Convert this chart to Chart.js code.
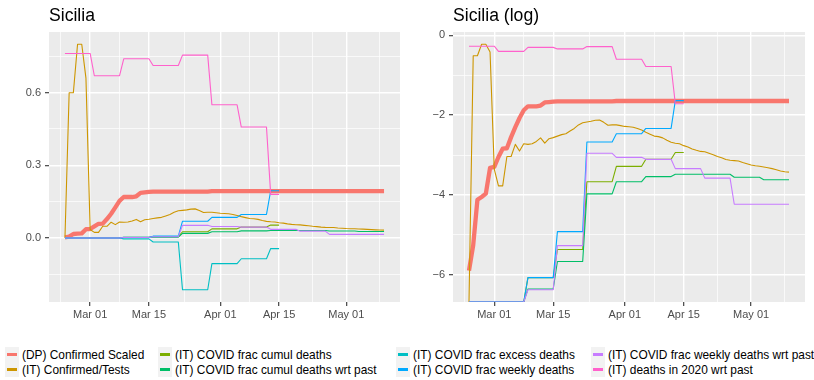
<!DOCTYPE html>
<html>
<head>
<meta charset="utf-8">
<script src="https://cdn.jsdelivr.net/npm/chart.js@4.4.1/dist/chart.umd.min.js"></script>
<style>
  body { margin: 0; background: #fff; width: 814px; height: 380px; overflow: hidden; position: relative;
         font-family: "Liberation Sans", Arial, sans-serif; }
  #leftChart { position: absolute; left: 0; top: 0; }
  #rightChart { position: absolute; left: 407px; top: 0; }
  #legend { position: absolute; left: 5px; top: 347px; display: grid;
            grid-template-columns: 153px 238px 195px 230px; grid-template-rows: 15px 15px; grid-auto-flow: column; }
  .item { display: flex; align-items: center; font-size: 11.9px; color: #000; white-space: nowrap; }
  .key { width: 14px; height: 15px; background: #F2F2F2; position: relative; margin-right: 3px; flex: none; }
  .key span { position: absolute; left: 2px; width: 10px; top: 6px; height: 3px; }
</style>
</head>
<body>
<canvas id="leftChart" width="407" height="330"></canvas>
<canvas id="rightChart" width="407" height="330"></canvas>
<div id="legend"></div>

<script>
// day 0 = 24 Feb 2020, last day = 10 May 2020
const xTickDays = [6, 20, 37, 51, 67];
const xTickLabels = ["Mar 01", "Mar 15", "Apr 01", "Apr 15", "May 01"];
const linTicks = [0, 0.3, 0.6];
const linTickLabels = ["0.0", "0.3", "0.6"];
const logTicks = [-6, -4, -2, 0];
const logTickLabels = ["\u22126", "\u22124", "\u22122", "0"];

const seriesNames = [
  "(DP) Confirmed Scaled", "(IT) Confirmed/Tests", "(IT) COVID frac cumul deaths",
  "(IT) COVID frac cumul deaths wrt past", "(IT) COVID frac excess deaths",
  "(IT) COVID frac weekly deaths", "(IT) COVID frac weekly deaths wrt past", "(IT) deaths in 2020 wrt past"
];
const seriesColors = ["#F8766D", "#CD9600", "#7CAE00", "#00BE67", "#00BFC4", "#00A9FF", "#C77CFF", "#FF61CC"];

// daily series (one value per day from day 0)
const confirmedScaled = [
  0.00274, 0.0052, 0.0162, 0.0174, 0.0189, 0.0361, 0.0369, 0.0474, 0.0584, 0.059,
  0.078, 0.100, 0.126, 0.153, 0.169, 0.169, 0.169, 0.172, 0.186, 0.188,
  0.190, 0.191, 0.191, 0.191, 0.191, 0.191, 0.191, 0.191, 0.191, 0.191,
  0.191, 0.191, 0.191, 0.191, 0.191, 0.193, 0.193, 0.193, 0.193, 0.193,
  0.193, 0.193, 0.193, 0.193, 0.193, 0.193, 0.193, 0.193, 0.193, 0.193,
  0.193, 0.193, 0.193, 0.193, 0.193, 0.193, 0.193, 0.193, 0.193, 0.193,
  0.193, 0.193, 0.193, 0.193, 0.193, 0.193, 0.193, 0.193, 0.193, 0.193,
  0.193, 0.193, 0.193, 0.193, 0.193, 0.193, 0.193
];
const confirmedTests = [
  0, 0.60, 0.60, 0.80, 0.80, 0.66, 0.035, 0.023, 0.023, 0.048,
  0.048, 0.065, 0.055, 0.066, 0.065, 0.066, 0.070, 0.0765, 0.067, 0.075,
  0.077, 0.080, 0.083, 0.085, 0.091, 0.097, 0.106, 0.112, 0.114, 0.116,
  0.119, 0.120, 0.113, 0.105, 0.106, 0.106, 0.104, 0.102, 0.101, 0.100,
  0.097, 0.093, 0.088, 0.084, 0.080, 0.079, 0.0765, 0.072, 0.0685, 0.067,
  0.066, 0.063, 0.061, 0.058, 0.056, 0.0545, 0.054, 0.052, 0.050, 0.048,
  0.0465, 0.0446, 0.0437, 0.0433, 0.0429, 0.0412, 0.040, 0.0388, 0.038, 0.0376,
  0.0369, 0.0362, 0.0354, 0.0344, 0.0334, 0.0327, 0.0324
];

// weekly step series: corner days and values
const shortStepDays = [0, 13, 14, 20, 21, 27, 28, 34, 35, 41, 42, 48, 49, 51];
const cumulDeaths  = [0, 0, 0.0023, 0.0023, 0.00466, 0.00466, 0.0255, 0.0255, 0.0375, 0.0375, 0.0447, 0.0447, 0.053, 0.053];
const excessDeaths = [0, 0, -0.004, -0.004, -0.017, -0.017, -0.214, -0.214, -0.106, -0.106, -0.086, -0.086, -0.044, -0.044];
const weeklyDeaths = [0, 0, 0.0023, 0.0023, 0.0073, 0.0073, 0.069, 0.069, 0.085, 0.085, 0.097, 0.097, 0.195, 0.195];

const longStepDays = [0, 13, 14, 20, 21, 27, 28, 34, 35, 41, 42, 48, 49, 55, 56, 62, 63, 69, 70, 76];
const cumulDeathsPast  = [0, 0, 0.00173, 0.00173, 0.00345, 0.00345, 0.0188, 0.0188, 0.0255, 0.0255,
                          0.029, 0.029, 0.0307, 0.0307, 0.0307, 0.0307, 0.0285, 0.0285, 0.0268, 0.0268];
const weeklyDeathsPast = [0, 0, 0.0017, 0.0017, 0.00514, 0.00514, 0.052, 0.052, 0.047, 0.047,
                          0.0447, 0.0447, 0.0354, 0.0354, 0.0279, 0.0279, 0.0145, 0.0145, 0.0145, 0.0145];

const deaths2020Days = [0, 6, 7, 13, 14, 20, 21, 27, 28, 34, 35, 41, 42, 48, 49, 51];
const deaths2020Past = [0.762, 0.762, 0.67, 0.67, 0.74, 0.74, 0.712, 0.712, 0.755, 0.755, 0.55, 0.55, 0.458, 0.458, 0.18, 0.18];

const dailyDays = confirmedScaled.map((v, i) => i);
const seriesDays = [dailyDays, dailyDays, shortStepDays, longStepDays, shortStepDays, shortStepDays, longStepDays, deaths2020Days];
const seriesVals = [confirmedScaled, confirmedTests, cumulDeaths, cumulDeathsPast, excessDeaths, weeklyDeaths, weeklyDeathsPast, deaths2020Past];

// ggplot-like 5% expansion
function expand(lo, hi) { const p = (hi - lo) * 0.05; return [lo - p, hi + p]; }
function minorsOf(major, lo, hi) {
  const out = [];
  const step0 = major[1] - major[0], stepN = major[major.length - 1] - major[major.length - 2];
  out.push(major[0] - step0 / 2);
  for (let i = 0; i < major.length - 1; i++) out.push((major[i] + major[i + 1]) / 2);
  out.push(major[major.length - 1] + stepN / 2);
  return out.filter(v => v >= lo && v <= hi);
}

const allDays = seriesDays.flat();
const [xMin, xMax] = expand(Math.min(...allDays), Math.max(...allDays));

function logOf(v) {
  if (v === null) return null;
  if (v > 0) return Math.log(v);
  if (v === 0) return -Infinity;
  return null;
}

function buildChart(canvasId, title, transform, majors, majorLabels, padRight, yWidth) {
  const tvals = seriesVals.map(arr => arr.map(transform));
  const finite = tvals.flat().filter(v => v !== null && isFinite(v));
  const [yMin, yMax] = expand(Math.min(...finite), Math.max(...finite));

  const datasets = seriesNames.map((name, i) => ({
    label: name,
    data: seriesDays[i].map((d, j) => {
      let y = tvals[i][j];
      if (y === -Infinity) y = yMin;   // -Inf drawn on the panel edge, as ggplot does
      return { x: d, y: y };
    }),
    borderColor: seriesColors[i],
    backgroundColor: seriesColors[i],
    borderWidth: i === 0 ? 4.3 : 1.1,
    pointRadius: 0,
    tension: 0,
    borderJoinStyle: "round",
    order: seriesNames.length - i,
    spanGaps: false
  }));

  const xMinors = minorsOf(xTickDays, xMin, xMax);
  const yMinors = minorsOf(majors, yMin, yMax);

  const gridOpts = {
    color: "#FFFFFF",
    lineWidth: ctx => (ctx.tick && ctx.tick.minor ? 0.7 : 1.4),
    tickColor: ctx => (ctx.tick && ctx.tick.minor ? "rgba(0,0,0,0)" : "#333333"),
    tickWidth: 1.1,
    tickLength: 4
  };
  const tickFont = { family: "'Liberation Sans', Arial, sans-serif", size: 11 };

  return new Chart(document.getElementById(canvasId), {
    type: "line",
    data: { datasets },
    options: {
      responsive: false,
      animation: false,
      layout: { padding: { left: 0, right: padRight, top: 32, bottom: 0 } },
      plugins: { legend: { display: false }, tooltip: { enabled: false },
                 panelBg: { title: title } },
      scales: {
        x: {
          type: "linear", min: xMin, max: xMax,
          grid: gridOpts, border: { display: false },
          afterBuildTicks: s => {
            s.ticks = xTickDays.map(v => ({ value: v }))
              .concat(xMinors.map(v => ({ value: v, minor: true })))
              .sort((a, b) => a.value - b.value);
          },
          afterFit: s => { s.height = 28; },
          ticks: {
            autoSkip: false, maxRotation: 0, padding: 2, color: "#4D4D4D", font: tickFont,
            callback: v => { const k = xTickDays.indexOf(v); return k >= 0 ? xTickLabels[k] : ""; }
          }
        },
        y: {
          type: "linear", min: yMin, max: yMax,
          grid: gridOpts, border: { display: false },
          afterBuildTicks: s => {
            s.ticks = majors.map(v => ({ value: v }))
              .concat(yMinors.map(v => ({ value: v, minor: true })))
              .sort((a, b) => a.value - b.value);
          },
          afterFit: s => { s.width = yWidth; },
          ticks: {
            autoSkip: false, padding: 4, color: "#4D4D4D", font: tickFont,
            callback: v => { const k = majors.indexOf(v); return k >= 0 ? majorLabels[k] : ""; }
          }
        }
      }
    },
    plugins: [{
      id: "panelBg",
      beforeDraw(chart) {
        const { ctx, chartArea: a } = chart;
        ctx.save();
        ctx.fillStyle = "#EBEBEB";
        ctx.fillRect(a.left, a.top, a.right - a.left, a.bottom - a.top);
        ctx.restore();
      },
      afterDraw(chart, args, opts) {
        const { ctx, chartArea: a } = chart;
        ctx.save();
        ctx.fillStyle = "#000000";
        ctx.font = "17.6px 'Liberation Sans', Arial, sans-serif";
        ctx.textBaseline = "alphabetic";
        ctx.fillText(opts.title, a.left, 21);
        ctx.restore();
      }
    }]
  });
}

buildChart("leftChart", "Sicilia", v => v, linTicks, linTickLabels, 7, 49);
buildChart("rightChart", "Sicilia (log)", logOf, logTicks, logTickLabels, 9, 46);

// legend (4 columns, filled column by column)
const legend = document.getElementById("legend");
seriesNames.forEach((name, i) => {
  const item = document.createElement("div");
  item.className = "item";
  const key = document.createElement("div");
  key.className = "key";
  const line = document.createElement("span");
  line.style.background = seriesColors[i];
  key.appendChild(line);
  const txt = document.createElement("span");
  txt.textContent = name;
  item.appendChild(key);
  item.appendChild(txt);
  legend.appendChild(item);
});
</script>
</body>
</html>
